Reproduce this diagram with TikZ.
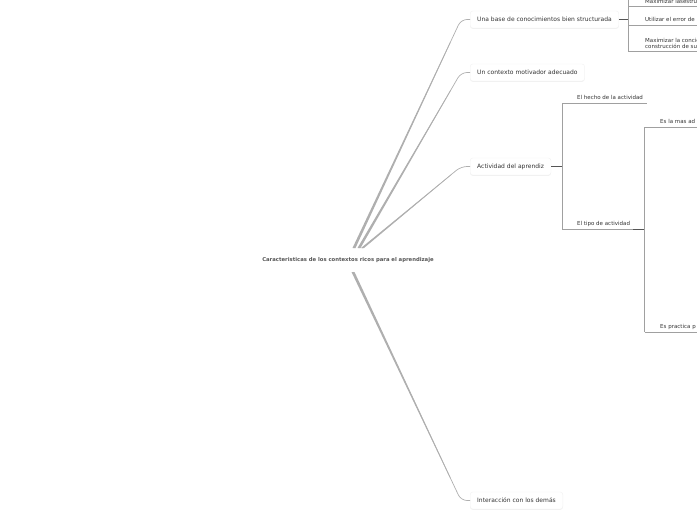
\documentclass[tikz,border=0pt]{standalone}
\usepackage{fontspec}
\setmainfont{DejaVu Sans}
\usetikzlibrary{calc,shadows}
\definecolor{branch}{HTML}{AFAFAF}
\definecolor{txt}{HTML}{333333}
\definecolor{roottxt}{HTML}{555555}
\definecolor{subl}{HTML}{A0A0A0}
\definecolor{dark}{HTML}{555555}
\tikzset{
  topic/.style={fill=white, draw=black!5, rounded corners=2.5pt, anchor=west,
    minimum height=17pt, inner xsep=7pt, inner ysep=0pt,
    font=\fontsize{6}{7}\selectfont, text=txt,
    drop shadow={shadow xshift=0pt, shadow yshift=-0.8pt, opacity=0.12}},
  roottopic/.style={font=\bfseries\fontsize{5.3}{6}\selectfont, text=roottxt, inner sep=0pt},
  subtxt/.style={font=\fontsize{5.5}{6}\selectfont, text=txt, inner sep=0pt, anchor=base west},
  subline/.style={draw=subl, line width=0.6pt},
  joinline/.style={draw=dark, line width=0.8pt},
  thinbranch/.style={draw=branch, line width=0.7pt, rounded corners=6pt}
}
\newcommand{\mybranch}[3]{% start coord, corner coord, node
  \fill[branch] ($(#1)+(-1.5,0)$) -- ($(#1)!0.9!(#2)+(-0.35,0)$) -- ($(#1)!0.9!(#2)+(0.35,0)$) -- ($(#1)+(1.5,0)$) -- cycle;
  \draw[thinbranch] (#1) -- (#2) -- (#3.west);
}
\begin{document}
\begin{tikzpicture}[x=1pt,y=-1pt]
\useasboundingbox (0,0) rectangle (697,520);
\clip (0,0) rectangle (697,520);

% root
\node[roottopic] (root) at (348,260.5) {Caracteristicas de los contextos ricos para el aprendizaje};

% main topics
\node[topic] (n1) at (470,19.5) {Una base de conocimientos bien structurada};
\node[topic] (n2) at (470,72.5) {Un contexto motivador adecuado};
\node[topic] (n3) at (470,166.5) {Actividad del aprendiz};
\node[topic] (n4) at (470,500.5) {Interacción con los demás};

% branch starts and corners
\coordinate (s1) at (354,248);
\coordinate (s2) at (359,248);
\coordinate (s3) at (362.5,248);
\coordinate (s4) at (353,272);
\coordinate (k1) at (461,19.5);
\coordinate (k2) at (461,72.5);
\coordinate (k3) at (461,166.5);
\coordinate (k4) at (461,500.5);

\mybranch{s1}{k1}{n1}
\mybranch{s2}{k2}{n2}
\mybranch{s3}{k3}{n3}
\mybranch{s4}{k4}{n4}

% sub-branch of n1
\coordinate (j1) at (628.5,19.5);
\coordinate (v1top) at (628.5,-3);
\coordinate (v1bot) at (628.5,51.5);
\draw[joinline] (n1.east) -- (j1);
\draw[subline] (v1top) -- (v1bot);
\node[subtxt] (c11) at (645,3.3) {Maximizar lasestruc};
\node[subtxt] (c12) at (645,21.7) {Utilizar el error de};
\node[subtxt, align=left] (c13) at (645,48) {Maximizar la concie\\construcción de su};
\coordinate (u11) at (628.5,6);
\coordinate (u12) at (628.5,25);
\coordinate (u13) at (628.5,51.5);
\draw[subline] (u11) -- ++(80,0);
\draw[subline] (u12) -- ++(80,0);
\draw[subline] (u13) -- ++(80,0);

% sub-branch of n3
\coordinate (j3) at (562,166.5);
\coordinate (u31) at (562,103);
\coordinate (u32) at (562,229);
\coordinate (e31) at (647,103);
\coordinate (e32a) at (633,229);
\coordinate (e32) at (644.5,229);
\draw[joinline] (n3.east) -- (j3);
\draw[subline] (u31) -- (u32);
\node[subtxt] (c31) at (577,99.9) {El hecho de la actividad};
\node[subtxt] (c32) at (577,225.9) {El tipo de actividad};
\draw[subline] (u31) -- (e31);
\draw[subline] (u32) -- (e32a);
\draw[joinline] (e32a) -- (e32);

% sub-branch of c32
\coordinate (u41) at (644.5,127);
\coordinate (u42) at (644.5,332);
\draw[subline] (u41) -- (u42);
\node[subtxt] (c41) at (660,123.4) {Es la mas ad};
\node[subtxt] (c42) at (660,328.9) {Es practica p};
\draw[subline] (u41) -- ++(80,0);
\draw[subline] (u42) -- ++(80,0);
\end{tikzpicture}
\end{document}
